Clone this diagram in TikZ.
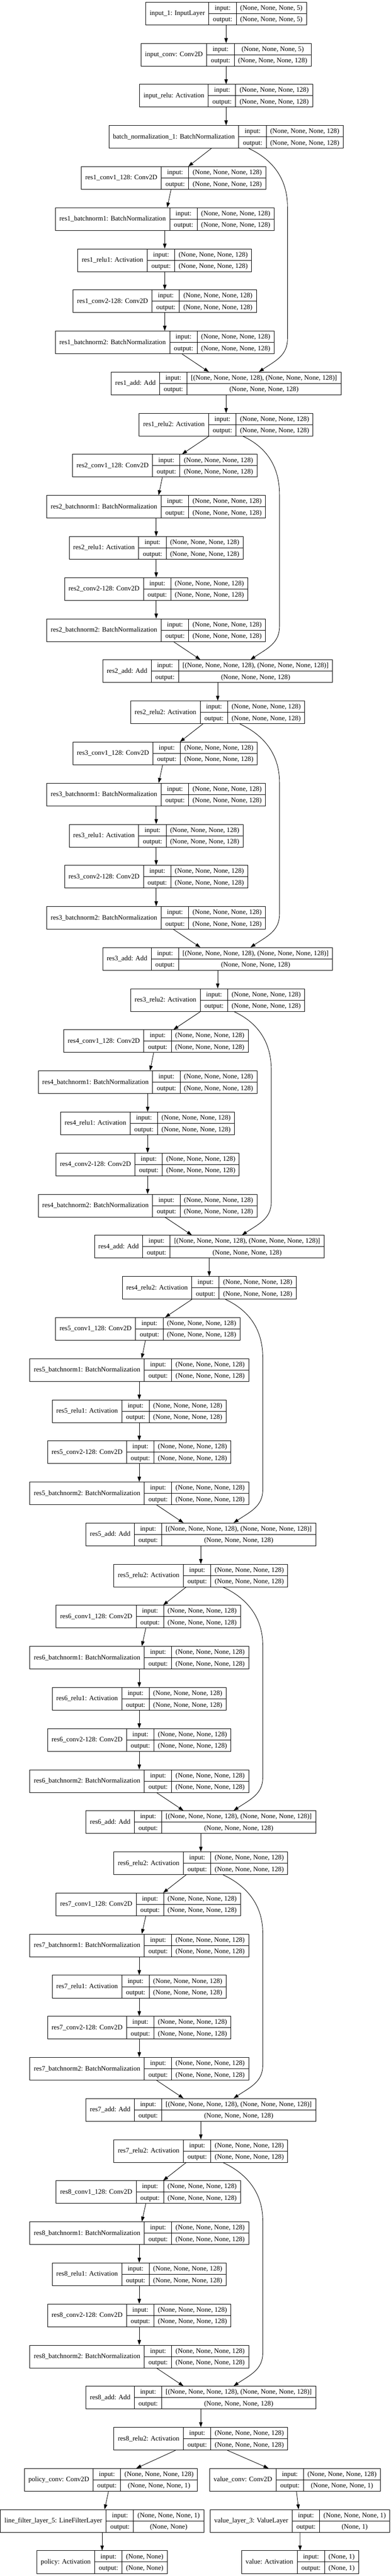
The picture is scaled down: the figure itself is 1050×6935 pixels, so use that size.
\documentclass[tikz,border=0pt]{standalone}
\usepackage{fontspec}
\setmainfont{Liberation Serif}
\usetikzlibrary{arrows.meta,calc}
\setlength{\tabcolsep}{8pt}
\setlength{\arrayrulewidth}{1pt}
\newcommand{\layerrec}[3]{%
  \begin{tabular}{c|@{}c@{}}
    #1 & \begin{tabular}{c|c} input: & #2\\ \hline output: & #3 \end{tabular}
  \end{tabular}}
\newcommand{\shp}{(None, None, None, 128)}
\tikzset{
  layer/.style={draw, line width=1pt, inner sep=0pt, fill=white,
    font=\fontsize{13.7}{22.4}\selectfont},
  flow/.style={-{Triangle[length=10pt,width=7pt]}, line width=0.9pt}
}

\begin{document}
\begin{tikzpicture}[x=0.75pt,y=-0.75pt]
        \useasboundingbox (0,0) rectangle (1050,6935);
        \fill[white] (0,0) rectangle (1050,6935);
        % stem
        \node[layer] (in1)    at (608,36.5)    {\layerrec{input\_1: InputLayer}{(None, None, None, 5)}{(None, None, None, 5)}};
        \node[layer] (inconv) at (608,147.16)  {\layerrec{input\_conv: Conv2D}{(None, None, None, 5)}{\shp}};
        \node[layer] (inrelu) at (608,257.82)  {\layerrec{input\_relu: Activation}{\shp}{\shp}};
        \node[layer] (bnorm)  at (608,368.48)  {\layerrec{batch\_normalization\_1: BatchNormalization}{\shp}{\shp}};
        \draw[flow] (in1) -- (inconv);
        \draw[flow] (inconv) -- (inrelu);
        \draw[flow] (inrelu) -- (bnorm);
        % residual blocks: k / conv1 x / inner x / add x / skip x / skip start offset
        \foreach \k/\cx/\ix/\ax/\kx/\off in {1/466.5/443/608/773/61, 2/443/420/585.4/751.5/45,
            3/444/420/585.4/751.5/59.6, 4/419.6/397/562.6/729.4/44, 5/397.5/374.5/540/706.6/43.6,
            6/399/374.5/540/706.6/60, 7/399/374.5/540/706.6/60, 8/399/374.5/540/706.6/60} {
          \pgfmathsetmacro\rr{4+7*(\k-1)}
          \ifnum\k=1 \def\src{bnorm}\else\pgfmathtruncatemacro\pk{\k-1}\edef\src{res\pk-relu2}\fi
          \node[layer] (res\k-conv1) at (\cx,{36.5+110.66*\rr})     {\layerrec{res\k\_conv1\_128: Conv2D}{\shp}{\shp}};
          \node[layer] (res\k-bn1)   at (\ix,{36.5+110.66*(\rr+1)}) {\layerrec{res\k\_batchnorm1: BatchNormalization}{\shp}{\shp}};
          \node[layer] (res\k-relu1) at (\ix,{36.5+110.66*(\rr+2)}) {\layerrec{res\k\_relu1: Activation}{\shp}{\shp}};
          \node[layer] (res\k-conv2) at (\ix,{36.5+110.66*(\rr+3)}) {\layerrec{res\k\_conv2-128: Conv2D}{\shp}{\shp}};
          \node[layer] (res\k-bn2)   at (\ix,{36.5+110.66*(\rr+4)}) {\layerrec{res\k\_batchnorm2: BatchNormalization}{\shp}{\shp}};
          \node[layer] (res\k-add)   at (\ax,{36.5+110.66*(\rr+5)}) {\layerrec{res\k\_add: Add}{[\shp, \shp]}{\shp}};
          \node[layer] (res\k-relu2) at (\ax,{36.5+110.66*(\rr+6)}) {\layerrec{res\k\_relu2: Activation}{\shp}{\shp}};
          \draw[flow] (\src) -- (res\k-conv1);
          \draw[flow] (res\k-conv1) -- (res\k-bn1);
          \draw[flow] (res\k-bn1) -- (res\k-relu1);
          \draw[flow] (res\k-relu1) -- (res\k-conv2);
          \draw[flow] (res\k-conv2) -- (res\k-bn2);
          \draw[flow] (res\k-bn2) -- (res\k-add);
          \draw[flow] (res\k-add) -- (res\k-relu2);
          % skip connection
          \draw[flow] ($(\src.south)+(\off,0)$) .. controls +(60,28) and +(0,-80) .. (\kx,{110.66*\rr+114.34})
                      -- (\kx,{110.66*\rr+469.3}) .. controls +(0,45) and +(45,-30) .. ($(res\k-add.north)+(88,0)$);
        }
        % heads
        \node[layer] (pconv)   at (298.4,6676.1)  {\layerrec{policy\_conv: Conv2D}{\shp}{(None, None, None, 1)}};
        \node[layer] (vconv)   at (793.4,6676.1)  {\layerrec{value\_conv: Conv2D}{\shp}{(None, None, None, 1)}};
        \node[layer] (lfilter) at (274.6,6786.76) {\layerrec{line\_filter\_layer\_5: LineFilterLayer}{(None, None, None, 1)}{(None, None)}};
        \node[layer] (vlayer)  at (806.7,6786.76) {\layerrec{value\_layer\_3: ValueLayer}{(None, None, None, 1)}{(None, 1)}};
        \node[layer] (policy)  at (274.6,6897.42) {\layerrec{policy: Activation}{(None, None)}{(None, None)}};
        \node[layer] (value)   at (807,6897.42)   {\layerrec{value: Activation}{(None, 1)}{(None, 1)}};
        \draw[flow] (res8-relu2) -- (pconv);
        \draw[flow] (res8-relu2) -- (vconv);
        \draw[flow] (pconv) -- (lfilter);
        \draw[flow] (lfilter) -- (policy);
        \draw[flow] (vconv) -- (vlayer);
        \draw[flow] (vlayer) -- (value);
\end{tikzpicture}
\end{document}
